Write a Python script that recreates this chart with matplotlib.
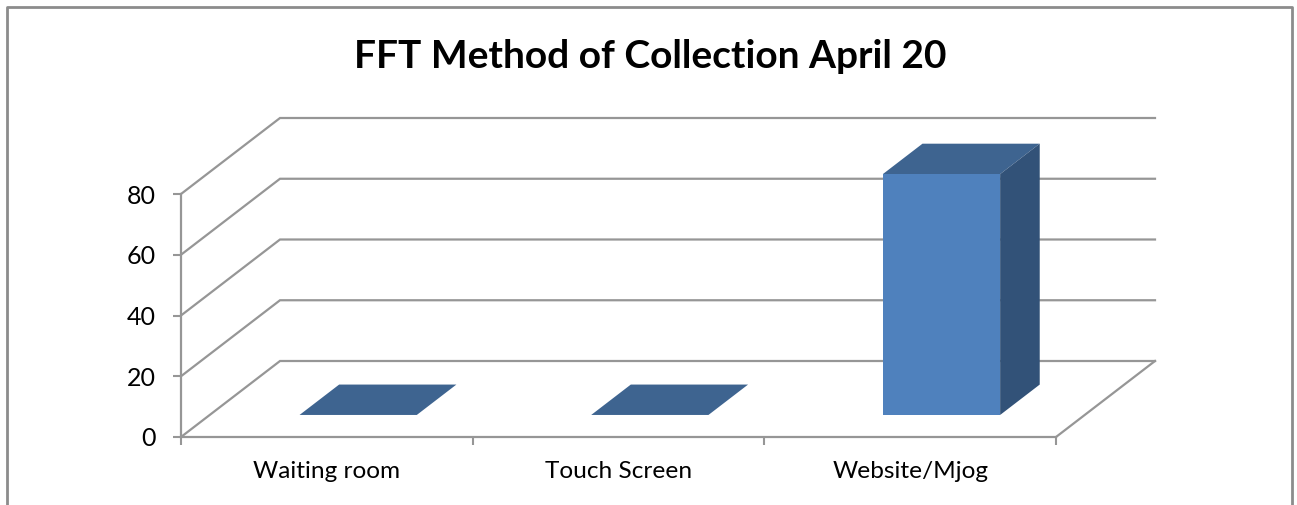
import matplotlib
matplotlib.use('Agg')
import matplotlib.pyplot as plt

categories = ['Waiting room', 'Touch Screen', 'Website/Mjog']
values = [0, 0, 79.3]
y_ticks = [0, 20, 40, 60, 80]

W, H = 1297, 505
GREY = '#969696'
plt.rcParams['font.family'] = ['Lato', 'DejaVu Sans']

fig = plt.figure(figsize=(W / 100, H / 100), dpi=100, facecolor='white')
ax = fig.add_axes([181 / W, 1 - 437 / H, 875 / W, 243 / H])
ax.set_xlim(-0.5, 2.5)
ax.set_ylim(0, 80)

# depth of the 3d box, in data units
depth_x = 99 / (875 / 3)
depth_y = 76 / (243 / 80)
bar_width = 0.402


def project(x, v, d=0.0):
    return x + d * depth_x, v + d * depth_y


# walls and gridlines
for v in y_ticks:
    xs, ys = zip(project(-0.5, v), project(-0.5, v, 1), project(2.5, v, 1))
    ax.plot(xs, ys, color=GREY, lw=1.6, clip_on=False, solid_joinstyle='miter', zorder=1)
xs, ys = zip(project(2.5, 0), project(2.5, 0, 1))
ax.plot(xs, ys, color=GREY, lw=1.6, clip_on=False, zorder=1)

# bars sit between 0.29 and 0.69 of the depth
d0, d1 = 0.29, 0.69
for i, v in enumerate(values):
    x0 = i - bar_width / 2 + 0.009
    x1 = i + bar_width / 2 + 0.009
    top = [project(x0, v, d0), project(x1, v, d0), project(x1, v, d1), project(x0, v, d1)]
    ax.fill(*zip(*top), color='#3e6490', lw=0, clip_on=False, zorder=3)
    if v > 0:
        side = [project(x1, 0, d0), project(x1, v, d0), project(x1, v, d1), project(x1, 0, d1)]
        front = [project(x0, 0, d0), project(x1, 0, d0), project(x1, v, d0), project(x0, v, d0)]
        ax.fill(*zip(*side), color='#325278', lw=0, clip_on=False, zorder=3)
        ax.fill(*zip(*front), color='#4f81bd', lw=0, clip_on=False, zorder=4)

for s in ['top', 'right']:
    ax.spines[s].set_visible(False)
for s in ['left', 'bottom']:
    ax.spines[s].set_color(GREY)
    ax.spines[s].set_linewidth(1.6)
ax.patch.set_alpha(0)

ax.set_yticks(y_ticks)
ax.set_xticks(range(3))
ax.set_xticklabels(categories)
ax.set_xticks([-0.5, 0.5, 1.5, 2.5], minor=True)
ax.tick_params(axis='x', which='major', length=0, pad=17.5, labelsize=17.6, colors='black')
ax.tick_params(axis='x', which='minor', length=6, width=1.5, color=GREY)
ax.tick_params(axis='y', length=6, width=1.5, color=GREY, labelsize=18, pad=12, labelcolor='black')

ax.set_title('FFT Method of Collection April 20', fontsize=28, fontweight='bold', x=(650 - 181) / 875, y=(437 - 65) / 243, va='center')

# outer chart frame, open at the bottom
frame_x = [7 / W, 7 / W, 1292 / W, 1292 / W]
frame_y = [0, 1 - 7 / H, 1 - 7 / H, 0]
fig.add_artist(plt.Line2D(frame_x, frame_y, color='#8c8c8c', lw=2))

fig.savefig('out.png', dpi=100, facecolor='white')
